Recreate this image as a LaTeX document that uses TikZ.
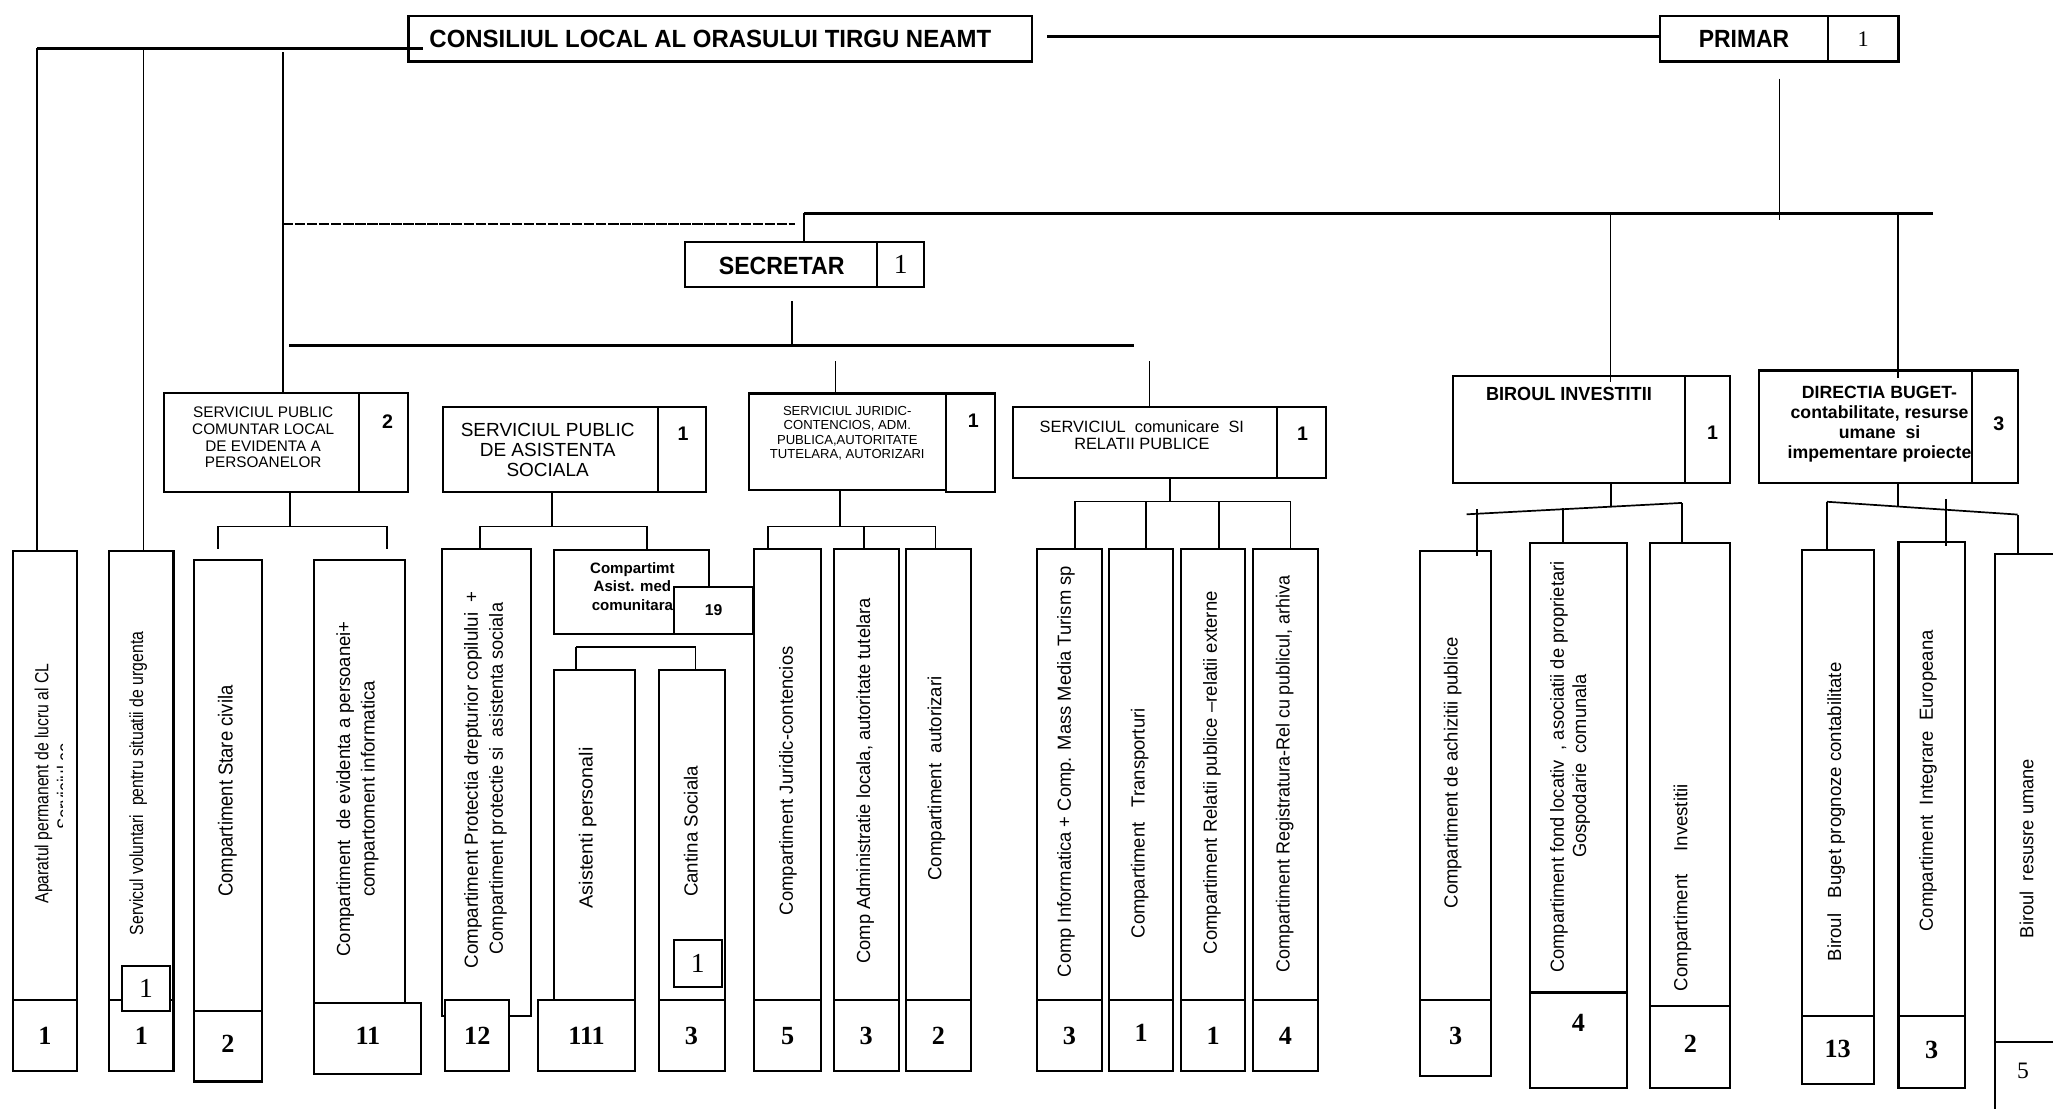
\documentclass[tikz,border=0pt]{standalone}
\usepackage{fontspec}
\setmainfont{Liberation Sans}
\newfontfamily\serifnum{Liberation Serif}
\usetikzlibrary{fit}
\newcommand{\fw}[2]{\resizebox{#1pt}{\height}{#2}}
\newcommand{\bx}[6][]{\node[bx,#1,fit={(#3,#4)(#5,#6)}] (#2) {};}
\begin{document}
\begin{tikzpicture}[x=1pt,y=-1pt,
  bx/.style={draw,line width=1.6pt,inner sep=0pt,outer sep=0pt},
  ln/.style={line width=1.3pt},
  bus/.style={line width=2.2pt},
  vt/.style={rotate=90,inner sep=0pt,font=\fontsize{14.5}{16}\selectfont},
  num/.style={inner sep=0pt,font=\serifnum\bfseries\fontsize{20}{22}\selectfont},
  snum/.style={inner sep=0pt,font=\bfseries\fontsize{15}{16}\selectfont},
  rnum/.style={inner sep=0pt,font=\serifnum\fontsize{21}{22}\selectfont},
  ttl/.style={inner sep=0pt,font=\bfseries\fontsize{19}{22}\selectfont},
  ]
\fill[white] (0,0) rectangle (1568,847);
\useasboundingbox (0,0) rectangle (1568,847);
\clip (0,0) rectangle (1568,847);

% ---------- top level ----------
\bx{cl}{312}{12}{788}{47}
\node[ttl] (clt) at (542.5,30) {\fw{429}{CONSILIUL LOCAL AL ORASULUI TIRGU NEAMT}};
\bx{pr}{1268}{12}{1396}{47}
\bx{prn}{1396}{12}{1450}{47}
\node[ttl] (prt) at (1332,30) {\fw{69}{PRIMAR}};
\node[inner sep=0pt,font=\serifnum\fontsize{17}{18}\selectfont] (prnt) at (1423,30) {1};
\bx{sec}{523}{185}{670}{219}
\bx{secn}{670}{185}{706}{219}
\node[ttl] (sect) at (597,203) {\fw{96}{SECRETAR}};
\node[inner sep=0pt,font=\serifnum\fontsize{21}{22}\selectfont] (secnt) at (688,202) {1};

% ---------- level 2 ----------
\bx{spc}{125.5}{300}{274.5}{376}
\bx{spcn}{274.5}{300}{311.4}{376}
\node[inner sep=0pt,align=center,font=\fontsize{11.7}{12.9}\selectfont] (spct) at (201,334)
  {SERVICIUL PUBLIC\\COMUNTAR LOCAL\\DE EVIDENTA A\\PERSOANELOR};
\node[snum] (spcnt) at (296,322) {2};

\bx{spa}{338}{310.5}{502.5}{376}
\bx{span}{502.5}{310.5}{539.3}{376}
\node[inner sep=0pt,align=center,font=\fontsize{14.5}{15.3}\selectfont] (spat) at (418.3,343.3)
  {SERVICIUL PUBLIC\\DE ASISTENTA\\SOCIALA};
\node[snum] (spant) at (521.7,331.6) {1};

\bx{jur}{572}{300.5}{722.8}{374}
\bx{jurn}{722.8}{300.5}{759.6}{376}
\node[inner sep=0pt,align=center,font=\fontsize{10}{11.1}\selectfont] (jurt) at (647.1,331)
  {SERVICIUL JURIDIC-\\CONTENCIOS, ADM.\\PUBLICA,AUTORITATE\\TUTELARA, AUTORIZARI};
\node[snum] (jurnt) at (743.3,321) {1};

\bx{com}{774}{310.6}{975.4}{365}
\bx{comn}{975.4}{310.6}{1012.6}{365}
\node[inner sep=0pt,align=center,font=\fontsize{12.5}{13}\selectfont] (comt) at (872.1,332)
  {SERVICIUL\ \ comunicare\ \ SI\\RELATII PUBLICE};
\node[snum] (comnt) at (994.9,331.6) {1};

\bx{bir}{1109.6}{287}{1287}{369}
\bx{birn}{1287}{287}{1321.6}{369}
\node[inner sep=0pt,font=\bfseries\fontsize{14.5}{16}\selectfont] (birt) at (1198.3,301) {\fw{126.6}{BIROUL INVESTITII}};
\node[snum] (birnt) at (1307.9,330.6) {1};

\bx{dir}{1343.5}{283}{1506.4}{369}
\node[inner sep=0pt,align=center,font=\bfseries\fontsize{13.5}{15.2}\selectfont] (dirt) at (1435.5,324)
  {DIRECTIA BUGET-\\contabilitate, resurse\\umane\ \ si\\impementare proiecte};
\bx[fill=white]{dirn}{1506.4}{283}{1541.4}{369}
\node[snum] (dirnt) at (1526.7,323.5) {3};

% ---------- leaves ----------
\bx{ap}{9.8}{421}{59}{764}      \bx{apn}{9.8}{764}{59}{818}
\bx{sv}{83}{421}{132.5}{764}    \bx{svn}{83}{764}{132.5}{818}
\bx[fill=white]{svs}{93}{738}{130}{772}
\bx{sc}{148.3}{428}{200}{772}   \bx{scn}{148.3}{772}{200}{826}
\bx{ev}{240}{428}{309.6}{766}   \bx{evn}{240}{766}{321.5}{820}
\bx{pc}{337.7}{419}{405.7}{776} \bx[fill=white]{pcn}{340}{764}{389}{818}
\bx{am}{423}{420}{541.6}{484}
\bx{as}{423}{512}{485}{764}     \bx{asn}{411}{764}{485}{818}
\bx{ct}{503}{512}{553.5}{764}   \bx{ctn}{503}{764}{553.5}{818}
\bx{jc}{576}{419}{627.3}{764}   \bx{jcn}{576}{764}{627.3}{818}
\bx{ad}{637}{419}{686.3}{764}   \bx{adn}{637}{764}{686.3}{818}
\bx{au}{692}{419}{741.6}{764}   \bx{aun}{692}{764}{741.6}{818}
\bx{ea}{792}{419}{841.5}{764}   \bx{ean}{792}{764}{841.5}{818}
\bx{eb}{847}{419}{896}{764}     \bx{ebn}{847}{764}{896}{818}
\bx{ec}{901.8}{419}{951.2}{764} \bx{ecn}{901.8}{764}{951.2}{818}
\bx{ed}{956.7}{419}{1006.8}{764}\bx{edn}{956.7}{764}{1006.8}{818}
\bx{fa}{1084.5}{421}{1139}{764} \bx{fan}{1084.5}{764}{1139}{822}
\bx{fb}{1168.6}{414.5}{1242.6}{758} \bx{fbn}{1168.6}{758}{1242.6}{831}
\bx{fc}{1260.5}{414.5}{1321.6}{768} \bx{fcn}{1260.5}{768}{1321.6}{831}
\bx{ga}{1376}{420}{1431}{776}   \bx{gan}{1376}{776}{1431}{828}
\bx{gb}{1450}{414}{1500.6}{776} \bx{gbn}{1450}{776}{1500.6}{831}
\bx{gc}{1524}{423}{1590}{796}   \bx{gcn}{1524}{796}{1590}{880}

% leaf texts
\node[vt] (apt) at (33.2,598.3) {\fw{183.3}{Aparatul permanent de lucru al CL}};
\begin{scope}
\clip (40,400) rectangle (47.9,800);
\node[vt] (apt2) at (48.8,600.8) {\fw{66}{Serviciul ce}};
\end{scope}
\node[vt] (svt) at (105.6,598.3) {\fw{231.7}{Servicul voluntari\ \ pentru situatii de urgenta}};
\node[vt,font=\fontsize{15.5}{17}\selectfont] (sct) at (173.6,604.2) {\fw{161.4}{Compartiment Stare civila}};
\node[vt] (evt1) at (263.7,602.5) {\fw{256}{Compartiment\ \ de evidenta a persoanei+}};
\node[vt] (evt2) at (282.3,602.5) {\fw{165}{compartoment informatica}};
\node[vt] (pct1) at (361.2,595.5) {\fw{287.7}{Compartiment Protectia drepturior copilului\ \ +}};
\node[vt] (pct2) at (380.4,594.6) {\fw{268.4}{Compartiment protectie si\ \ asistenta sociala}};
\node[vt] (ast) at (448.8,632.3) {\fw{122.8}{Asistenti personali}};
\node[vt] (ctt) at (527.7,635) {\fw{100}{Cantina Sociala}};
\node[vt] (jct) at (601.8,596.3) {\fw{205.3}{Compartiment Juridic-contencios}};
\node[vt] (adt) at (660.8,596.4) {\fw{279}{Comp Administratie locala, autoritate tutelara}};
\node[vt] (aut) at (715.3,594.6) {\fw{156}{Compartiment\ \ autorizari}};
\node[vt] (eat) at (814.2,589.3) {\fw{314}{Comp Informatica + Comp. Mass Media Turism sp}};
\node[vt] (ebt) at (870.4,628.8) {\fw{175.4}{Compartiment\ \ \ Transporturi}};
\node[vt] (ect) at (925.6,590.2) {\fw{277.2}{Compartiment Relatii publice --relatii externe}};
\node[vt] (edt) at (981.2,591) {\fw{303.5}{Compartiment Registratura-Rel cu publicul, arhiva}};
\node[vt] (fat) at (1109.6,590.2) {\fw{207}{Compartiment de achizitii publice}};
\node[vt] (fbt1) at (1190.6,585.8) {\fw{314}{Compartiment fond locativ\ \ , asociatii de proprietari}};
\node[vt] (fbt2) at (1207.6,585) {\fw{140.3}{Gospodarie\ \ comunala}};
\node[vt] (fct) at (1285,678) {\fw{158}{Compartiment\hspace{18pt}Investitii}};
\node[vt] (gat) at (1402.4,620) {\fw{228}{Biroul\ \ \ Buget prognoze contabilitate}};
\node[vt] (gbt) at (1472.5,596.4) {\fw{230}{Compartiment\ \ Integrare\ \ Europeana}};
\node[vt] (gct) at (1547.9,648) {\fw{136.8}{Biroul\ \ resusre umane}};

\node[inner sep=0pt,align=center,font=\bfseries\fontsize{11.5}{14}\selectfont] (amt) at (483,448)
  {Compartimt\\Asist. med\\comunitara};
\bx[fill=white]{amn}{514.5}{448}{575}{484}
\node[inner sep=0pt,font=\bfseries\fontsize{12}{13}\selectfont] (amnt) at (545,466) {19};
\bx[fill=white]{cts}{514.5}{718}{551.5}{754}
\node[rnum] (ctst) at (533,736) {1};
\node[rnum] (svst) at (111.5,755) {1};

% leaf numbers
\node[num] (n1) at (34.4,791) {1};
\node[num] (n2) at (108,791) {1};
\node[num] (n3) at (174,797) {2};
\node[num] (n4) at (281,791) {11};
\node[num] (n5) at (364.5,791) {12};
\node[num] (n6) at (448,791) {111};
\node[num] (n7) at (528,791) {3};
\node[num] (n8) at (601.6,791) {5};
\node[num] (n9) at (661.6,791) {3};
\node[num] (n10) at (716.8,791) {2};
\node[num] (n11) at (816.7,791) {3};
\node[num] (n12) at (871.5,789) {1};
\node[num] (n13) at (926.5,791) {1};
\node[num] (n14) at (981.7,791) {4};
\node[num] (n15) at (1111.7,791) {3};
\node[num] (n16) at (1205.6,781) {4};
\node[num] (n17) at (1291,797) {2};
\node[num] (n18) at (1403.5,801) {13};
\node[num] (n19) at (1475.3,802) {3};
\node[inner sep=0pt,font=\serifnum\fontsize{18}{20}\selectfont] (n20) at (1545,818) {5};

% ---------- connectors ----------
\coordinate (b1L) at (28,37);
\coordinate (b1R) at (323,37);
\draw[bus] (b1R) -- (b1L);
\draw[ln] (b1L) -- (b1L |- ap.north);
\coordinate (v2) at (109.5,37);
\draw[ln] (v2) -- (v2 |- sv.north);
\coordinate (v3) at (216,40);
\draw[ln] (v3) -- (v3 |- spc.north);

\coordinate (clpr) at (800,28);
\draw[bus] (clpr) -- (clpr -| pr.west);
\coordinate (prd) at (1359,60);
\coordinate (prb) at (1359,168);
\draw[ln] (prd) -- (prb);

\coordinate (m1) at (614,163);
\coordinate (m2) at (1476,163);
\draw[bus] (m1) -- (m2);
\draw[ln] (m1) -- (m1 |- sec.north);
\coordinate (mb) at (1230,163);
\draw[ln] (mb) -- ([yshift=-5pt]mb |- bir.north);
\coordinate (md) at (1449.8,163);
\draw[ln] (md) -- ([yshift=-6pt]md |- dir.north);

\coordinate (d1) at (216,171);
\coordinate (d2) at (607,171);
\draw[line width=1pt,dash pattern=on 8pt off 1.2pt] (d1) -- (d2);

\coordinate (s1) at (605,230);
\coordinate (s2) at (605,264);
\draw[ln] (s1) -- (s2);
\coordinate (hb1) at (221,264);
\coordinate (hb2) at (866,264);
\draw[bus] (hb1) -- (hb2);
\coordinate (j0) at (638,276);
\draw[ln] (j0) -- (j0 |- jur.north);
\coordinate (c0) at (878,276);
\draw[ln] (c0) -- (c0 |- com.north);

% SPC children
\coordinate (spcB) at (221.6,402);
\draw[ln] (spcB |- spc.south) -- (spcB);
\coordinate (spcL) at (166.5,402);
\coordinate (spcR) at (295.6,402);
\draw[ln] (spcL) -- (spcR);
\draw[ln] (spcL) -- ++(0,17);
\draw[ln] (spcR) -- ++(0,17);

% SPA children
\coordinate (spaB) at (421.8,402);
\draw[ln] (spaB |- spa.south) -- (spaB);
\coordinate (spaL) at (366.4,402);
\coordinate (spaR) at (494.4,402);
\draw[ln] (spaL) -- (spaR);
\draw[ln] (spaL) -- (spaL |- pc.north);
\draw[ln] (spaR) -- (spaR |- am.north);

% Asist med children
\coordinate (amL) at (440,494.4);
\coordinate (amR) at (531.3,494.4);
\draw[ln] (amL) -- (amR);
\draw[ln] (amL) -- (amL |- as.north);
\draw[ln] (amR) -- (amR |- ct.north);

% JUR children
\coordinate (jurB) at (641.3,402);
\draw[ln] (jurB |- jur.south) -- (jurB);
\coordinate (jurL) at (586.8,402);
\coordinate (jurM) at (659.7,402);
\coordinate (jurR) at (714.6,402);
\draw[ln] (jurL) -- (jurR);
\draw[ln] (jurL) -- (jurL |- jc.north);
\draw[ln] (jurM) -- (jurM |- ad.north);
\draw[ln] (jurR) -- (jurR |- au.north);

% COM children
\coordinate (comB) at (893.6,383);
\draw[ln] (comB |- com.south) -- (comB);
\coordinate (comA) at (821,383);
\coordinate (comC) at (875.5,383);
\coordinate (comD) at (931.1,383);
\coordinate (comE) at (985.7,383);
\draw[ln] (comA) -- (comE);
\draw[ln] (comA) -- (comA |- ea.north);
\draw[ln] (comC) -- (comC |- eb.north);
\draw[ln] (comD) -- (comD |- ec.north);
\draw[ln] (comE) -- (comE |- ed.north);

% BIR children
\coordinate (birB) at (1230.2,387);
\draw[ln] (birB |- bir.south) -- (birB);
\coordinate (birL) at (1120.2,392.8);
\coordinate (birR) at (1284.6,384.1);
\draw[ln] (birL) -- (birR);
\coordinate (bv1) at (1128.3,389);
\draw[ln] (bv1) -- ([yshift=-3.6pt]bv1 |- fa.north);
\coordinate (bv2) at (1193.5,388.3);
\draw[ln] (bv2) -- (bv2 |- fb.north);
\draw[ln] (birR) -- (birR |- fc.north);

% DIR children
\coordinate (dirB) at (1449.8,386.9);
\draw[ln] (dirB |- dir.south) -- (dirB);
\coordinate (dirL) at (1395.2,383.2);
\coordinate (dirR) at (1541,393);
\draw[ln] (dirL) -- (dirR);
\draw[ln] (dirL) -- (dirL |- ga.north);
\coordinate (dv2) at (1486.5,381);
\draw[ln] (dv2) -- ([yshift=-3pt]dv2 |- gb.north);
\draw[ln] (dirR) -- (dirR |- gc.north);
\end{tikzpicture}
\end{document}
